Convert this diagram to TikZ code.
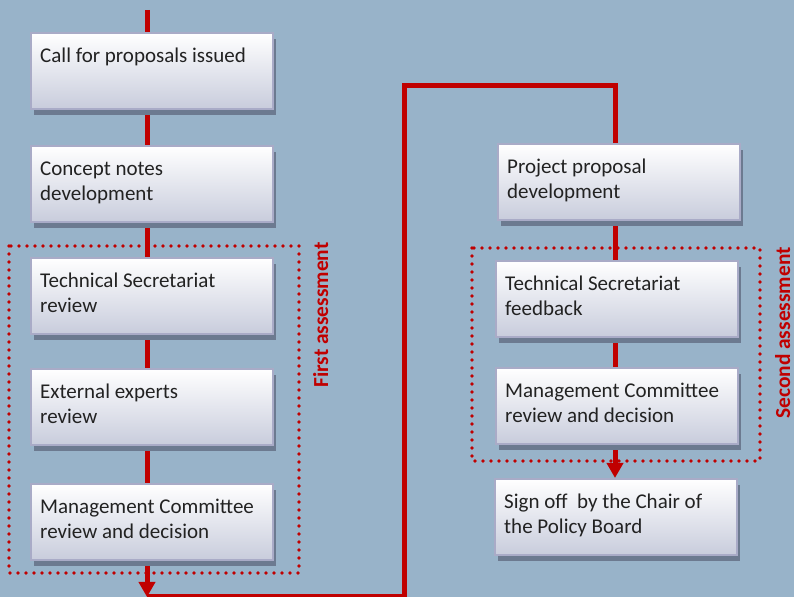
\documentclass[tikz,border=0pt]{standalone}
\usepackage{fontspec}
\setmainfont{Carlito}
\usepackage{xcolor}
\usetikzlibrary{arrows.meta,shadows}

\definecolor{bgblue}{HTML}{98B3C9}
\definecolor{flowred}{HTML}{C00000}
\definecolor{boxline}{HTML}{A9ABC7}
\definecolor{boxlow}{HTML}{C8CCDC}
\definecolor{boxshadow}{HTML}{6C7A90}
\definecolor{boxtext}{HTML}{222222}

\pgfdeclarelayer{back}
\pgfsetlayers{back,main}

\tikzset{
  stepbox/.style={draw=boxline, line width=1.2pt, top color=white, bottom color=boxlow,
    minimum width=121pt, minimum height=38pt, inner xsep=4.5pt, inner ysep=6pt,
    anchor=north west, text=boxtext,
    drop shadow={shadow xshift=1.3pt, shadow yshift=-3pt, fill=boxshadow, opacity=1},
    execute at begin node={\begin{minipage}[c][26pt][t]{112pt}\fontsize{10.5}{12.5}\selectfont\raggedright\strut},
    execute at end node={\end{minipage}}},
  flow/.style={draw=flowred, line width=2.5pt},
  flowarrow/.style={flow, -{Triangle[width=8pt,length=7.5pt]}},
  group/.style={draw=flowred, line width=1.9pt, dash pattern=on 0pt off 4pt, line cap=round},
  grouplabel/.style={rotate=90, anchor=base, text=flowred, font=\fontsize{10.7}{12.5}\selectfont\bfseries}
}

\begin{document}
\begin{tikzpicture}[x=0.5pt,y=-0.5pt]
    % Background
    \begin{pgfonlayer}{back}
        \fill[bgblue] (0,0) rectangle (794,597);
    \end{pgfonlayer}
    \useasboundingbox (0,0) rectangle (794,597);

    % Assessment groups
    \draw[group] (9,246) rectangle (299,573);
    \draw[group] (472,248) rectangle (760,461);
    \node[grouplabel] (first) at (328,315) {First assessment};
    \node[grouplabel] (second) at (790,333) {Second assessment};

    % Left column
    \node[stepbox] (call) at (30,32) {Call for proposals issued};
    \node[stepbox] (concept) at (30,145) {Concept notes\\development};
    \node[stepbox] (tsr) at (30,257) {Technical Secretariat\\review};
    \node[stepbox] (eer) at (30,368) {External experts\\review};
    \node[stepbox] (mcone) at (30,483) {Management Committee\\review and decision};

    % Right column
    \node[stepbox] (proj) at (497,143) {Project proposal\\development};
    \node[stepbox] (tsf) at (495,260) {Technical Secretariat\\feedback};
    \node[stepbox] (mctwo) at (495,367) {Management Committee\\review and decision};
    \node[stepbox] (sign) at (494,478) {Sign off\ \ by the Chair of\\the Policy Board};

    % Connectors
    \coordinate (top) at (147,10);
    \coordinate (turn) at (147,597);
    \coordinate (bend) at (404,86);
    \coordinate (rtop) at (615,86);
    \begin{pgfonlayer}{back}
        \draw[flow] (top) -- (call.north -| top);
        \draw[flow] (call.south -| top) -- (concept.north -| top);
        \draw[flow] (concept.south -| top) -- (tsr.north -| top);
        \draw[flow] (tsr.south -| top) -- (eer.north -| top);
        \draw[flow] (eer.south -| top) -- (mcone.north -| top);
        \draw[flowarrow] (mcone.south -| top) -- (turn);
        \draw[flow] (turn) -| (bend) -- (rtop) -- (proj.north -| rtop);
        \draw[flow] (proj.south -| rtop) -- (tsf.north -| rtop);
        \draw[flow] (tsf.south -| rtop) -- (mctwo.north -| rtop);
        \draw[flowarrow] (mctwo.south -| rtop) -- (sign.north -| rtop);
    \end{pgfonlayer}
\end{tikzpicture}
\end{document}
